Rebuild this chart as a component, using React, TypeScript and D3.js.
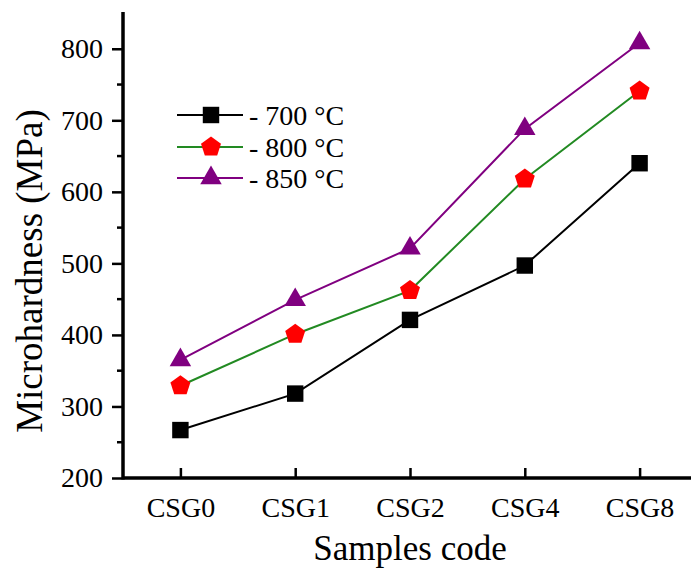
import React, { useEffect, useRef } from "react";
import * as d3 from "d3";

const samples = ["CSG0", "CSG1", "CSG2", "CSG4", "CSG8"];
const hard700 = [267, 318, 421, 497, 640];
const hard800 = [329, 401, 462, 618, 741];
const hard850 = [365, 449, 521, 688, 808];
const seriesNames = ["- 700 °C", "- 800 °C", "- 850 °C"];
const yTicks = [200, 300, 400, 500, 600, 700, 800];

const size = { width: 691, height: 571 };
const plot = { left: 123, right: 697, top: 13, bottom: 478 };
const font = "'Liberation Serif', 'Times New Roman', serif";

const pentagon = (r: number) => {
  const pts = d3.range(5).map(i => {
    const a = -Math.PI / 2 + (i * 2 * Math.PI) / 5;
    return [r * Math.cos(a), r * Math.sin(a)] as [number, number];
  });
  return d3.line()(pts) + "Z";
};

const styles = [
  { line: "#000000", fill: "#000000", marker: d3.symbol(d3.symbolSquare, 270)() },
  { line: "#228a22", fill: "#ff0000", marker: pentagon(10.5) },
  { line: "#800080", fill: "#800080", marker: d3.symbol(d3.symbolTriangle, 200)() },
];

const App = () => {
  const ref = useRef<SVGSVGElement>(null);

  useEffect(() => {
    document.body.style.margin = "0";
    const svg = d3.select(ref.current);
    svg.selectAll("*").remove();

    const x = d3.scalePoint().domain(samples).range([plot.left, plot.right]).padding(0.5);
    const y = d3.scaleLinear().domain([200, 850]).range([plot.bottom, plot.top]);

    // y axis
    const yAxis = d3.axisLeft(y).tickValues(yTicks).tickSize(11).tickPadding(9);
    const gy = svg.append("g").attr("transform", `translate(${plot.left},0)`).call(yAxis);
    gy.select(".domain").remove();
    gy.selectAll(".tick line").attr("stroke", "#000").attr("stroke-width", 2.5);
    gy.selectAll(".tick text")
      .attr("font-family", font)
      .attr("font-size", 28)
      .attr("fill", "#000");
    svg.append("g")
      .selectAll("line")
      .data(d3.range(250, 850, 100))
      .join("line")
      .attr("x1", plot.left - 6)
      .attr("x2", plot.left)
      .attr("y1", d => y(d))
      .attr("y2", d => y(d))
      .attr("stroke", "#000")
      .attr("stroke-width", 2.5);

    // x axis
    const xAxis = d3.axisBottom(x).tickSize(-10).tickPadding(19);
    const gx = svg.append("g").attr("transform", `translate(0,${plot.bottom})`).call(xAxis);
    gx.select(".domain").remove();
    gx.selectAll(".tick line").attr("stroke", "#000").attr("stroke-width", 2.5);
    gx.selectAll(".tick text")
      .attr("font-family", font)
      .attr("font-size", 28)
      .attr("fill", "#000");

    svg.append("line")
      .attr("x1", plot.left).attr("x2", size.width)
      .attr("y1", plot.bottom).attr("y2", plot.bottom)
      .attr("stroke", "#000").attr("stroke-width", 3.5);
    svg.append("line")
      .attr("x1", plot.left).attr("x2", plot.left)
      .attr("y1", plot.top - 1).attr("y2", plot.bottom + 1.5)
      .attr("stroke", "#000").attr("stroke-width", 3.5);

    // series
    const all = [hard700, hard800, hard850];
    const line = d3.line<number>().x((d, i) => x(samples[i]) as number).y(d => y(d));
    all.forEach((vals, k) => {
      svg.append("path")
        .attr("d", line(vals))
        .attr("fill", "none")
        .attr("stroke", styles[k].line)
        .attr("stroke-width", 2);
    });
    all.forEach((vals, k) => {
      svg.append("g")
        .selectAll("path")
        .data(vals)
        .join("path")
        .attr("d", styles[k].marker)
        .attr("transform", (d, i) => `translate(${x(samples[i])},${y(d)})`)
        .attr("fill", styles[k].fill);
    });

    // legend
    const rows = [115, 147, 178];
    const legend = svg.append("g");
    seriesNames.forEach((name, k) => {
      legend.append("line")
        .attr("x1", 177).attr("x2", 243)
        .attr("y1", rows[k]).attr("y2", rows[k])
        .attr("stroke", styles[k].line).attr("stroke-width", 2);
      legend.append("path")
        .attr("d", styles[k].marker)
        .attr("transform", `translate(211,${rows[k]})`)
        .attr("fill", styles[k].fill);
      legend.append("text")
        .attr("x", 249).attr("y", rows[k] + 10)
        .attr("font-family", font).attr("font-size", 28)
        .text(name);
    });

    // titles
    svg.append("text")
      .attr("x", 410).attr("y", 560)
      .attr("text-anchor", "middle")
      .attr("font-family", font).attr("font-size", 35)
      .text("Samples code");
    svg.append("text")
      .attr("transform", "translate(42,271) rotate(-90)")
      .attr("text-anchor", "middle")
      .attr("font-family", font).attr("font-size", 37)
      .text("Microhardness (MPa)");
  }, []);

  return <svg ref={ref} width={size.width} height={size.height} style={{ display: "block", background: "#fff" }} />;
};

export default App;
